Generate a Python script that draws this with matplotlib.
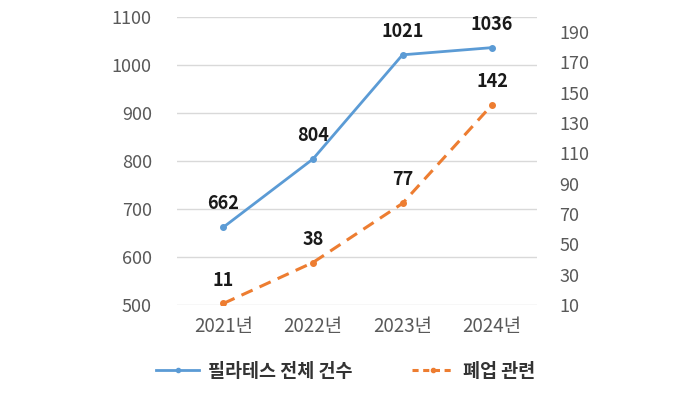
import matplotlib
matplotlib.use("Agg")
import matplotlib.pyplot as plt
from matplotlib.lines import Line2D

plt.rcParams['font.family'] = ['Noto Sans CJK KR', 'DejaVu Sans']

years = ["2021년", "2022년", "2023년", "2024년"]
total = [662, 804, 1021, 1036]
closed = [11, 38, 77, 142]
left_ticks = [500, 600, 700, 800, 900, 1000, 1100]
right_ticks = [10, 30, 50, 70, 90, 110, 130, 150, 170, 190]
label_total = "필라테스 전체 건수"
label_closed = "폐업 관련"

blue = "#5B9BD5"
orange = "#ED7D31"
gray = "#595959"

fig = plt.figure(figsize=(6.99, 3.93), dpi=100)
ax = fig.add_axes([0.253, 0.224, 0.515, 0.733])
ax2 = ax.twinx()

x = list(range(len(years)))
ax.plot(x, total, color=blue, lw=2, marker='o', ms=4, zorder=3)
ax2.plot(x, closed, color=orange, lw=2.2, ls=(0, (4, 2.5)), marker='o', ms=4, zorder=3)

for xi, v in zip(x, total):
    ax.annotate(str(v), (xi, v), xytext=(0, 10), textcoords='offset points',
                ha='center', va='bottom', fontsize=13, fontweight='bold', color='#1a1a1a')
for xi, v in zip(x, closed):
    ax2.annotate(str(v), (xi, v), xytext=(0, 10), textcoords='offset points',
                 ha='center', va='bottom', fontsize=13, fontweight='bold', color='#1a1a1a')

ax.set_xlim(-0.52, 3.5)
ax.set_ylim(500, 1100)
ax2.set_ylim(10, 200)
ax.set_yticks(left_ticks)
ax2.set_yticks(right_ticks)
ax.set_xticks(x)
ax.set_xticklabels(years)
ax.grid(axis='y', color='#D9D9D9', lw=1)
ax.set_axisbelow(True)

for a in (ax, ax2):
    for s in a.spines.values():
        s.set_visible(False)
    a.tick_params(length=0, labelsize=13, colors=gray)
ax.tick_params(axis='y', pad=18)
ax2.tick_params(axis='y', pad=16)
ax.tick_params(axis='x', pad=8, labelsize=13.5)

handles = [Line2D([0], [0], color=blue, lw=2, marker='o', ms=3),
           Line2D([0], [0], color=orange, lw=2.2, ls=(0, (2, 1.5)), marker='o', ms=3)]
leg = fig.legend(handles, [label_total, label_closed], loc='center', bbox_to_anchor=(0.495, 0.055),
                 ncol=2, frameon=False, handlelength=2.3, handletextpad=0.5, columnspacing=3.2,
                 prop={'weight': 'bold', 'size': 13.3})
for t in leg.get_texts():
    t.set_color('#333333')

fig.savefig("out.png", dpi=100)
